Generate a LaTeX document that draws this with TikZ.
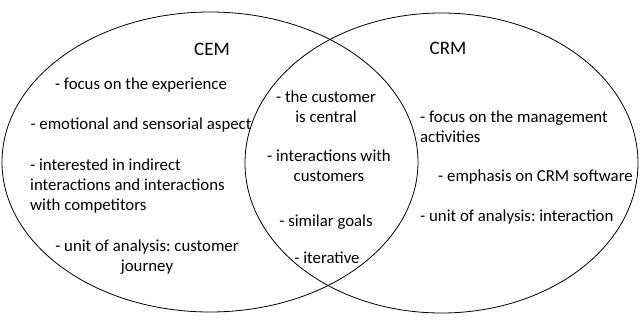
\documentclass[tikz,border=0pt]{standalone}
\usepackage{fontspec}
\setmainfont{Carlito}
\frenchspacing

\begin{document}
\begin{tikzpicture}[x=1pt,y=-1pt]
            \useasboundingbox (0,0) rectangle (641,321);
            \draw[line width=0.8pt] (210,162) ellipse [x radius=208,y radius=150];
            \draw[line width=0.8pt] (441.5,163) ellipse [x radius=196.5,y radius=150];
            \begin{scope}[every node/.style={inner sep=0pt,font=\fontsize{16.8}{20}\selectfont}]
                \node[font=\fontsize{19}{22}\selectfont] (cem) at (212,49) {CEM};
                \node[font=\fontsize{19}{22}\selectfont] (crm) at (448,48) {CRM};
                % left side
                \node (cem1) at (141,85) {- focus on the experience};
                \node (cem2) at (141,125) {- emotional and sensorial aspect};
                \node[anchor=west,align=left] (cem3) at (30,186) {- interested in indirect\\interactions and interactions\\with competitors};
                \node[align=center] (cem4) at (147,257) {- unit of analysis: customer\\journey};
                % overlap
                \node[align=center] (both1) at (326,107) {- the customer\\is central};
                \node[align=center] (both2) at (329,166) {- interactions with\\customers};
                \node (both3) at (326,222) {- similar goals};
                \node (both4) at (327,258) {- iterative};
                % right side
                \node[anchor=west,align=left] (crm1) at (420,127) {- focus on the management\\activities};
                \node[anchor=west] (crm2) at (438,177) {- emphasis on CRM software};
                \node[anchor=west] (crm3) at (420,217) {- unit of analysis: interaction};
            \end{scope}
        \end{tikzpicture}
\end{document}
